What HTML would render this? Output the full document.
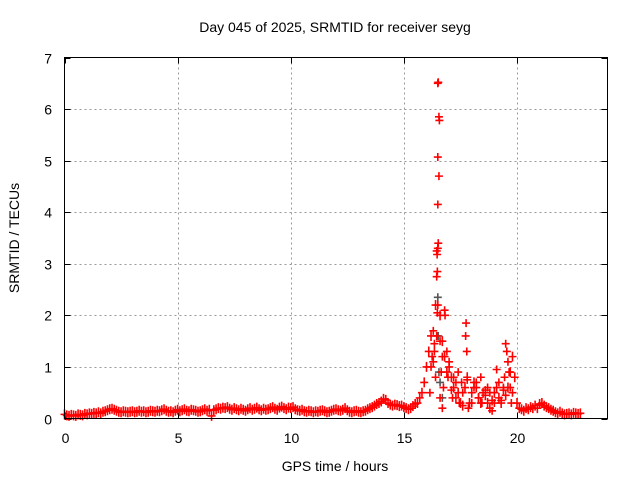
<!DOCTYPE html>
<html><head><meta charset="utf-8"><style>
html,body{margin:0;padding:0;background:#fff;}
svg text{font-family:"Liberation Sans",sans-serif;fill:#000;}
</style></head><body>
<svg id="chart" width="640" height="480" xmlns="http://www.w3.org/2000/svg">
<rect width="640" height="480" fill="#fff"/>
<text x="335" y="32" font-size="14" text-anchor="middle">Day 045 of 2025, SRMTID for receiver seyg</text>
<g id="grid"></g>
<g id="ticks"></g>
<g id="marks"></g>
<rect x="64.5" y="57.5" width="543" height="361" fill="none" stroke="#000" stroke-width="1"/>
<text x="335" y="471" font-size="14" text-anchor="middle">GPS time / hours</text>
<text transform="translate(19,238) rotate(-90)" font-size="14" text-anchor="middle">SRMTID / TECUs</text>
</svg>
<script>
const xTicks=[0,5,10,15,20];
const yTicks=[0,1,2,3,4,5,6,7];
const baseStart=0, baseStep=0.1;
const baseValues=[
0.08,0.06,0.05,0.07,0.06,0.05,0.08,0.07,0.06,0.09,
0.08,0.1,0.09,0.11,0.1,0.12,0.1,0.13,0.14,0.16,
0.18,0.19,0.17,0.15,0.13,0.12,0.14,0.13,0.12,0.13,
0.14,0.12,0.13,0.15,0.13,0.14,0.12,0.13,0.15,0.14,
0.13,0.15,0.14,0.16,0.18,0.15,0.13,0.14,0.12,0.15,
0.17,0.14,0.16,0.18,0.15,0.14,0.17,0.16,0.15,0.13,
0.14,0.16,0.18,0.15,0.17,0.05,0.16,0.18,0.2,0.19,
0.21,0.2,0.22,0.19,0.17,0.2,0.18,0.16,0.19,0.17,
0.15,0.18,0.2,0.17,0.19,0.21,0.18,0.16,0.19,0.17,
0.18,0.2,0.22,0.19,0.17,0.21,0.23,0.2,0.18,0.21,
0.2,0.22,0.18,0.16,0.15,0.17,0.14,0.13,0.15,0.14,
0.12,0.14,0.13,0.15,0.16,0.14,0.12,0.13,0.15,0.17,
0.18,0.16,0.15,0.17,0.2,0.16,0.13,0.12,0.14,0.15,
0.13,0.12,0.14,0.15,0.18,0.2,0.22,0.25,0.28,0.3,
0.33,0.38,0.36,0.3,0.27,0.25,0.27,0.26,0.24,0.25,
0.22,0.2,0.18,0.2,0.24,0.28,0.3,0.4,0.5,0.7,
1.0,1.3,1.6,1.1,2.2,3.3,2.0,1.5,1.2,0.9,
1.0,0.8,0.6,0.4,0.5,0.3,0.25,0.6,0.8,0.3,
0.5,0.7,0.6,0.4,0.3,0.5,0.45,0.3,0.2,0.35,
0.5,0.6,0.4,0.3,0.55,0.45,0.6,0.9,1.2,0.8,
0.3,0.2,0.18,0.15,0.2,0.18,0.22,0.2,0.25,0.2,
0.28,0.3,0.25,0.22,0.2,0.17,0.15,0.12,0.1,0.13,
0.1,0.08,0.09,0.1,0.08,0.11,0.1,0.09,0.1];
const extraTimes=[16.5,16.52,16.55,16.57,16.5,16.55,16.5,16.52,16.45,16.47,16.48,16.45,16.5,16.48,16.45,16.3,16.35,16.6,16.8,16.82,16.7,16.9,17.0,17.2,17.75,17.73,17.78,17.8,18.2,18.4,18.6,19.1,19.5,19.55,19.6,19.65,19.7,16.6,16.7,17.1,18.9,19.3,16.2,16.4,17.4,18.0,16.25,16.65,17.3,17.6,18.1,18.3,18.8,19.2,19.4,19.8,16.15,16.35,16.75,16.95,17.15,17.45,17.55,17.85,18.45,18.7,19.0,19.45,19.75];
const extraValues=[6.5,6.52,5.85,5.78,5.07,4.7,4.15,3.4,3.25,3.18,2.85,2.75,2.2,2.05,1.6,1.7,1.45,1.5,2.1,2.0,1.2,1.3,1.1,0.8,1.85,1.6,1.3,0.75,0.7,0.8,0.55,0.95,1.45,1.3,1.1,0.9,0.6,0.4,0.2,0.55,0.15,0.35,1.0,0.8,0.9,0.3,1.2,0.9,0.7,0.5,0.6,0.4,0.5,0.7,0.6,0.5,0.5,1.3,0.6,0.8,0.4,0.3,0.7,0.2,0.3,0.6,0.3,0.8,0.3];
const greyTimes=[16.5,16.52,16.55,16.6,16.7];
const greyValues=[2.35,1.6,0.9,0.7,0.4];

const X0=64.5,X1=607.5,Y0=418.5,Y1=57.5;
const xScale=t=>X0+(t/24)*(X1-X0);
const yScale=v=>Y0-(v/7)*(Y0-Y1);
const NS='http://www.w3.org/2000/svg';
const grid=document.getElementById('grid'),ticks=document.getElementById('ticks'),marks=document.getElementById('marks');
function line(g,x1,y1,x2,y2,stroke,dash){const l=document.createElementNS(NS,'line');l.setAttribute('x1',x1);l.setAttribute('y1',y1);l.setAttribute('x2',x2);l.setAttribute('y2',y2);l.setAttribute('stroke',stroke);if(dash)l.setAttribute('stroke-dasharray',dash);g.appendChild(l);return l;}
xTicks.forEach(t=>{const x=Math.round(xScale(t))+0.5;
 if(t>0){const gl=line(grid,x,Y1,x,Y0,'#999','2,3');
 
 }
 line(ticks,x,Y0,x,Y0-6,'#000');line(ticks,x,Y1,x,Y1+6,'#000');
 const tx=document.createElementNS(NS,'text');tx.setAttribute('x',x);tx.setAttribute('y',443);tx.setAttribute('font-size','14');tx.setAttribute('text-anchor','middle');tx.textContent=t;
 
 
 ticks.appendChild(tx);});
yTicks.forEach(v=>{const y=Math.round(yScale(v))+0.5;
 if(v>0&&v<7){const gl=line(grid,X0,y,X1,y,'#999','2,3');
 
 }
 line(ticks,X0,y,X0+6,y,'#000');line(ticks,X1,y,X1-6,y,'#000');
 const tx=document.createElementNS(NS,'text');tx.setAttribute('x',52);tx.setAttribute('y',y+5);tx.setAttribute('font-size','14');tx.setAttribute('text-anchor','end');tx.textContent=v;
 
 
 ticks.appendChild(tx);});
function plus(t,v,color,arm){const x=xScale(t),y=yScale(v);const p=document.createElementNS(NS,'path');
 p.setAttribute('d',`M${x-4} ${y}h8M${x} ${y-arm}v${2*arm}`);p.setAttribute('stroke',color);p.setAttribute('stroke-width','1.6');p.setAttribute('fill','none');
 
 
 marks.appendChild(p);}
baseValues.forEach((v,i)=>plus(baseStart+i*baseStep,v,'#f00',5));
greyTimes.forEach((t,i)=>plus(t,greyValues[i],'#555',4));
extraTimes.forEach((t,i)=>plus(t,extraValues[i],'#f00',4));
</script>
</body></html>
